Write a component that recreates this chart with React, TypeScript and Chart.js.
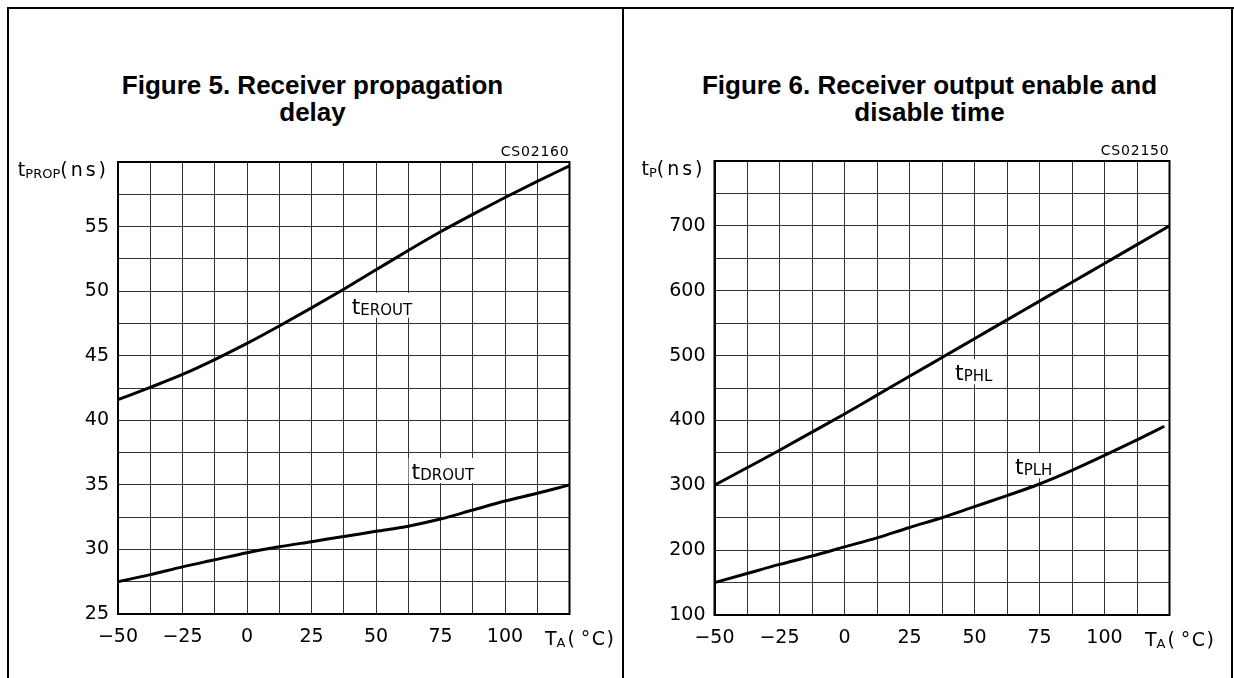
import React, { useEffect, useRef } from "react";
import { Chart, registerables } from "chart.js";

Chart.register(...registerables);

// ---------- Figure 5 data ----------
const fig5Temp = [-50, -37.5, -25, -12.5, 0, 12.5, 25, 37.5, 50, 62.5, 75, 87.5, 100, 112.5, 125];
const fig5Erout = [41.6, 42.55, 43.55, 44.7, 45.95, 47.3, 48.7, 50.15, 51.65, 53.15, 54.6, 55.95, 57.25, 58.5, 59.7];
const fig5Drout = [27.5, 28.05, 28.65, 29.2, 29.75, 30.2, 30.6, 31.0, 31.4, 31.8, 32.35, 33.05, 33.75, 34.35, 35.0];
const fig5YTickLabels = [25, 30, 35, 40, 45, 50, 55];

// ---------- Figure 6 data ----------
const fig6TempPhl = [-50, -37.5, -25, -12.5, 0, 12.5, 25, 37.5, 50, 62.5, 75, 87.5, 100, 112.5, 125];
const fig6Phl = [300, 327, 354, 382, 410, 439, 468, 497, 526, 555, 584, 613, 642, 671, 700];
const fig6TempPlh = [-50, -37.5, -25, -12.5, 0, 12.5, 25, 37.5, 50, 62.5, 75, 87.5, 100, 112.5, 123];
const fig6Plh = [150, 164, 178, 191, 205, 219, 235, 250, 267, 284, 302, 323, 346, 370, 391];
const fig6YTickLabels = [100, 200, 300, 400, 500, 600, 700];

// ---------- shared ----------
const xTickLabels = [-50, -25, 0, 25, 50, 75, 100];
const fig5Title = ["Figure 5. Receiver propagation", "delay"];
const fig6Title = ["Figure 6. Receiver output enable and", "disable time"];

const FAMILY = '"DejaVu Sans", sans-serif';

type Part = { t: string; size: number; dy?: number; ls?: number };

function partsWidth(ctx: CanvasRenderingContext2D, parts: Part[]) {
  let total = 0;
  for (const p of parts) {
    ctx.font = `${p.size}px ${FAMILY}`;
    for (const ch of p.t) total += ctx.measureText(ch).width + (p.ls || 0);
  }
  return total;
}

function drawParts(
  ctx: CanvasRenderingContext2D,
  x: number,
  baseline: number,
  parts: Part[],
  align: "left" | "right"
) {
  const total = partsWidth(ctx, parts);
  let cx = align === "right" ? x - total : x;
  ctx.fillStyle = "#000";
  ctx.textAlign = "left";
  ctx.textBaseline = "alphabetic";
  for (const p of parts) {
    ctx.font = `${p.size}px ${FAMILY}`;
    for (const ch of p.t) {
      ctx.fillText(ch, cx, baseline + (p.dy || 0));
      cx += ctx.measureText(ch).width + (p.ls || 0);
    }
  }
}

type CurveLabel = { x: number; y: number; sub: string };

type Cfg = {
  series: { x: number[]; y: number[] }[];
  yMin: number;
  yMax: number;
  yStep: number;
  yLabels: number[];
  padTop: number;
  padRight: number;
  yWidth: number;
  xHeight: number;
  ySub: string;
  code: string;
  curveLabels: CurveLabel[];
};

function fmt(v: number) {
  return v < 0 ? "\u2212" + String(-v) : String(v);
}

function labelParts(sub: string): Part[] {
  return [
    { t: "t", size: 22 },
    { t: sub, size: 15, dy: 1 },
  ];
}

function makeChart(canvas: HTMLCanvasElement, cfg: Cfg) {
  const annot = {
    id: "annot",
    beforeDatasetsDraw(chart: any) {
      const { ctx, scales } = chart;
      ctx.save();
      for (const l of cfg.curveLabels) {
        const w = partsWidth(ctx, labelParts(l.sub));
        const px = scales.x.getPixelForValue(l.x);
        const py = scales.y.getPixelForValue(l.y);
        ctx.fillStyle = "#fff";
        ctx.fillRect(px - 3, py - 21, w + 6, 25);
      }
      ctx.restore();
    },
    afterDraw(chart: any) {
      const { ctx, chartArea: a, scales } = chart;
      ctx.save();
      ctx.strokeStyle = "#000";
      ctx.lineWidth = 2;
      ctx.strokeRect(a.left, a.top, a.right - a.left, a.bottom - a.top);
      // y axis title
      drawParts(
        ctx,
        a.left - 9,
        a.top + 14,
        [
          { t: "t", size: 19 },
          { t: cfg.ySub, size: 13, dy: 2 },
          { t: "(ns)", size: 19, ls: 3 },
        ],
        "right"
      );
      // x axis title
      drawParts(
        ctx,
        a.right + 46,
        a.bottom + 31,
        [
          { t: "T", size: 19 },
          { t: "A", size: 13, dy: 2, ls: 2 },
          { t: "(", size: 19, ls: 6 },
          { t: "°C)", size: 19, ls: 1.5 },
        ],
        "right"
      );
      // code
      drawParts(ctx, a.right, a.top - 6, [{ t: cfg.code, size: 14, ls: 0.8 }], "right");
      // curve labels
      for (const l of cfg.curveLabels) {
        const px = scales.x.getPixelForValue(l.x);
        const py = scales.y.getPixelForValue(l.y);
        drawParts(ctx, px, py, labelParts(l.sub), "left");
      }
      ctx.restore();
    },
  };

  return new Chart(canvas, {
    type: "line",
    data: {
      datasets: cfg.series.map((s) => ({
        data: s.x.map((xv, i) => ({ x: xv, y: s.y[i] })),
        borderColor: "#000",
        borderWidth: 3,
        pointRadius: 0,
        tension: 0.4,
        cubicInterpolationMode: "monotone" as const,
        fill: false,
      })),
    },
    options: {
      responsive: false,
      animation: false,
      devicePixelRatio: 1,
      layout: { padding: { left: 0, top: cfg.padTop, right: cfg.padRight, bottom: 0 } },
      plugins: {
        legend: { display: false },
        tooltip: { enabled: false },
        title: { display: false },
      },
      scales: {
        x: {
          type: "linear",
          min: -50,
          max: 125,
          afterFit: (s: any) => {
            s.height = cfg.xHeight;
          },
          ticks: {
            stepSize: 12.5,
            autoSkip: false,
            maxRotation: 0,
            padding: 12,
            color: "#000",
            font: { family: FAMILY, size: 19 },
            callback: (v: any) => (xTickLabels.includes(Number(v)) ? fmt(Number(v)) : ""),
          },
          grid: { color: "#333", lineWidth: 1, drawTicks: false },
          border: { color: "#000", width: 2 },
        },
        y: {
          type: "linear",
          min: cfg.yMin,
          max: cfg.yMax,
          afterFit: (s: any) => {
            s.width = cfg.yWidth;
          },
          ticks: {
            stepSize: cfg.yStep,
            autoSkip: false,
            padding: 9,
            color: "#000",
            font: { family: FAMILY, size: 19 },
            callback: (v: any) => (cfg.yLabels.includes(Number(v)) ? String(v) : ""),
          },
          grid: { color: "#333", lineWidth: 1, drawTicks: false },
          border: { color: "#000", width: 2 },
        },
      },
    } as any,
    plugins: [annot],
  });
}

function Panel(props: { cfg: Cfg; left: number; width: number; title: string[] }) {
  const ref = useRef<HTMLCanvasElement | null>(null);
  useEffect(() => {
    if (!ref.current) return;
    const c = makeChart(ref.current, props.cfg);
    return () => c.destroy();
  }, []);
  return (
    <>
      <div
        style={{
          position: "absolute",
          left: props.left + 2,
          top: 72,
          width: props.width - 2,
          textAlign: "center",
          fontFamily: '"Liberation Sans", Arial, sans-serif',
          fontWeight: "bold",
          fontSize: 26,
          lineHeight: "27px",
          color: "#000",
        }}
      >
        <div>{props.title[0]}</div>
        <div>{props.title[1]}</div>
      </div>
      <canvas
        ref={ref}
        width={props.width}
        height={678}
        style={{ position: "absolute", left: props.left, top: 0, width: props.width, height: 678 }}
      />
    </>
  );
}

const cfg5: Cfg = {
  series: [
    { x: fig5Temp, y: fig5Erout },
    { x: fig5Temp, y: fig5Drout },
  ],
  yMin: 25,
  yMax: 60,
  yStep: 2.5,
  yLabels: fig5YTickLabels,
  padTop: 162,
  padRight: 623 - 569.5,
  yWidth: 118,
  xHeight: 678 - 614,
  ySub: "PROP",
  code: "CS02160",
  curveLabels: [
    { x: 40.6, y: 48.25, sub: "EROUT" },
    { x: 63.8, y: 35.45, sub: "DROUT" },
  ],
};

const cfg6: Cfg = {
  series: [
    { x: fig6TempPhl, y: fig6Phl },
    { x: fig6TempPlh, y: fig6Plh },
  ],
  yMin: 100,
  yMax: 800,
  yStep: 50,
  yLabels: fig6YTickLabels,
  padTop: 161,
  padRight: 611 - 546.5,
  yWidth: 91.5,
  xHeight: 678 - 615,
  ySub: "P",
  code: "CS02150",
  curveLabels: [
    { x: 42.5, y: 462, sub: "PHL" },
    { x: 65.6, y: 317, sub: "PLH" },
  ],
};

export default function App() {
  const line = (l: number, t: number, w: number, h: number) => (
    <div style={{ position: "absolute", left: l, top: t, width: w, height: h, background: "#000" }} />
  );
  return (
    <div
      style={{
        position: "fixed",
        left: 0,
        top: 0,
        width: 1234,
        height: 678,
        background: "#fff",
        overflow: "hidden",
      }}
    >
      {line(7, 7, 1227, 2)}
      {line(7, 7, 2, 671)}
      {line(622, 7, 2, 671)}
      {line(1231, 7, 2, 671)}
      <Panel cfg={cfg5} left={0} width={623} title={fig5Title} />
      <Panel cfg={cfg6} left={623} width={611} title={fig6Title} />
    </div>
  );
}
